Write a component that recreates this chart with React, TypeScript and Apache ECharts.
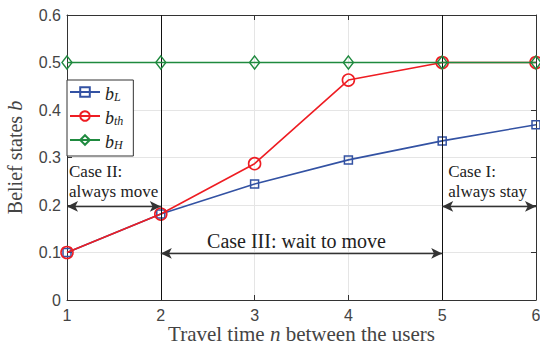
import React, { useEffect, useRef } from "react";
import * as echarts from "echarts";

const xValues = [1, 2, 3, 4, 5, 6];
const bL = [0.1, 0.181, 0.244, 0.295, 0.335, 0.369];
const bTh = [0.1, 0.181, 0.287, 0.463, 0.5, 0.5];
const bH = [0.5, 0.5, 0.5, 0.5, 0.5, 0.5];
const seriesNames = ["b_L", "b_th", "b_H"];
const legendLabels: Record<string, string> = { b_L: "L", b_th: "th", b_H: "H" };
const caseBounds = [2, 5];
const caseArrowY = [0.197, 0.098];

const SERIF = "'Liberation Serif', 'DejaVu Serif', serif";
const SANS = "'Liberation Sans', Arial, sans-serif";
const BLUE = "#3352a3";
const RED = "#ee1d23";
const GREEN = "#1f8a3f";

export default function App() {
  const ref = useRef<HTMLDivElement>(null);
  useEffect(() => {
    if (!ref.current) return;
    const chart = echarts.init(ref.current, undefined, { renderer: "svg", width: 540, height: 344 });
    const pts = (ys: number[]) => xValues.map((x, i) => [x, ys[i]]);
    const arrowLabel = (text: string, position: string, extra: any = {}) => ({
      show: true,
      formatter: text,
      position,
      fontFamily: SERIF,
      fontSize: 17,
      color: "#222",
      lineHeight: 20,
      ...extra,
    });
    const arrowStyle = { color: "#333", width: 1.3, type: "solid" };
    const option: any = {
      animation: false,
      backgroundColor: "#fff",
      grid: { left: 67, right: 4, top: 15, bottom: 44, containLabel: false, outerBoundsMode: "none" },
      legend: {
        data: seriesNames,
        orient: "vertical",
        left: 67,
        top: 80,
        itemWidth: 30,
        itemHeight: 12,
        itemGap: 6,
        padding: [5, 10, 5, 2],
        borderColor: "#333",
        borderWidth: 1,
        backgroundColor: "#fff",
        selectedMode: false,
        formatter: (name: string) => `{b|b}{s|${legendLabels[name]}}`,
        textStyle: {
          rich: {
            b: { fontFamily: SERIF, fontStyle: "italic", fontSize: 18, color: "#222", lineHeight: 22, verticalAlign: "bottom" },
            s: { fontFamily: SERIF, fontStyle: "italic", fontSize: 12, color: "#222", lineHeight: 12, verticalAlign: "bottom" },
          },
        },
      },
      xAxis: [
        {
          type: "value",
          min: 1,
          max: 6,
          interval: 1,
          name: "{n|Travel time }{i|n}{n| between the users}",
          nameLocation: "middle",
          nameGap: 25,
          nameMoveOverlap: false,
          nameTextStyle: {
            rich: {
              n: { fontFamily: SERIF, fontSize: 21, color: "#444", lineHeight: 18 },
              i: { fontFamily: SERIF, fontSize: 21, fontStyle: "italic", color: "#444", lineHeight: 18 },
            },
          },
          axisLine: { show: true, onZero: false, lineStyle: { color: "#333", width: 1 } },
          axisTick: { show: true, inside: true, length: 5, lineStyle: { color: "#333" } },
          axisLabel: { fontFamily: SANS, fontSize: 16, color: "#444", margin: 7 },
          splitLine: { show: true, lineStyle: { color: "#e5e5e5", width: 1 } },
        },
        {
          type: "value",
          position: "top",
          min: 1,
          max: 6,
          interval: 1,
          axisLine: { show: true, onZero: false, lineStyle: { color: "#333", width: 1 } },
          axisTick: { show: true, inside: true, length: 5, lineStyle: { color: "#333" } },
          axisLabel: { show: false },
          splitLine: { show: false },
        },
      ],
      yAxis: [
        {
          type: "value",
          min: 0,
          max: 0.6,
          interval: 0.1,
          name: "{n|Belief states }{i|b}",
          nameLocation: "middle",
          nameGap: 42,
          nameRotate: 90,
          nameTextStyle: {
            rich: {
              n: { fontFamily: SERIF, fontSize: 20, color: "#444" },
              i: { fontFamily: SERIF, fontSize: 20, fontStyle: "italic", color: "#444" },
            },
          },
          axisLine: { show: true, onZero: false, lineStyle: { color: "#333", width: 1 } },
          axisTick: { show: true, inside: true, length: 5, lineStyle: { color: "#333" } },
          axisLabel: { fontFamily: SANS, fontSize: 16, color: "#444", margin: 6, formatter: (v: number) => (v === 0 ? "0" : v.toFixed(1)) },
          splitLine: { show: true, lineStyle: { color: "#e5e5e5", width: 1 } },
        },
        {
          type: "value",
          position: "right",
          min: 0,
          max: 0.6,
          interval: 0.1,
          axisLine: { show: true, onZero: false, lineStyle: { color: "#333", width: 1 } },
          axisTick: { show: true, inside: true, length: 5, lineStyle: { color: "#333" } },
          axisLabel: { show: false },
          splitLine: { show: false },
        },
      ],
      series: [
        {
          name: "annotations",
          type: "line",
          data: [],
          silent: true,
          markLine: {
            silent: true,
            animation: false,
            symbol: ["none", "none"],
            label: { show: false },
            data: [
              ...caseBounds.map((x) => ({ xAxis: x, lineStyle: { color: "#111", width: 1, type: "solid" }, label: { show: false } })),
              [
                { coord: [xValues[0], caseArrowY[0]], symbol: "arrow", symbolSize: [8, 11], lineStyle: arrowStyle, label: arrowLabel("Case II:\nalways move", "insideStartTop", { distance: [2, 5] }) },
                { coord: [caseBounds[0], caseArrowY[0]], symbol: "arrow", symbolSize: [8, 11] },
              ],
              [
                { coord: [caseBounds[0], caseArrowY[1]], symbol: "arrow", symbolSize: [8, 11], lineStyle: arrowStyle, label: arrowLabel("Case III: wait to move", "middle", { distance: 2, fontSize: 20, lineHeight: 20, padding: [0, 10, 0, 0] }) },
                { coord: [caseBounds[1], caseArrowY[1]], symbol: "arrow", symbolSize: [8, 11] },
              ],
              [
                { coord: [caseBounds[1], caseArrowY[0]], symbol: "arrow", symbolSize: [8, 11], lineStyle: arrowStyle, label: arrowLabel("Case I:\nalways stay", "insideStartTop", { distance: [6, 5] }) },
                { coord: [xValues[xValues.length - 1], caseArrowY[0]], symbol: "arrow", symbolSize: [8, 11] },
              ],
            ],
          },
        },
        {
          name: "b_L",
          type: "line",
          data: pts(bL),
          symbol: "rect",
          symbolSize: 8,
          lineStyle: { color: BLUE, width: 1.6 },
          itemStyle: { color: "rgba(255,255,255,0)", borderColor: BLUE, borderWidth: 1.5 },
          z: 3,
        },
        {
          name: "b_th",
          type: "line",
          data: pts(bTh),
          symbol: "circle",
          symbolSize: 12,
          lineStyle: { color: RED, width: 1.6 },
          itemStyle: { color: "rgba(255,255,255,0)", borderColor: RED, borderWidth: 1.6 },
          z: 4,
        },
        {
          name: "b_H",
          type: "line",
          data: pts(bH),
          symbol: "diamond",
          symbolSize: [10, 13],
          lineStyle: { color: GREEN, width: 1.6 },
          itemStyle: { color: "rgba(255,255,255,0)", borderColor: GREEN, borderWidth: 1.5 },
          z: 5,
        },
      ],
    };
    chart.setOption(option);
    return () => chart.dispose();
  }, []);
  return <div ref={ref} style={{ width: 540, height: 344, position: "absolute", left: 0, top: 0 }} />;
}
